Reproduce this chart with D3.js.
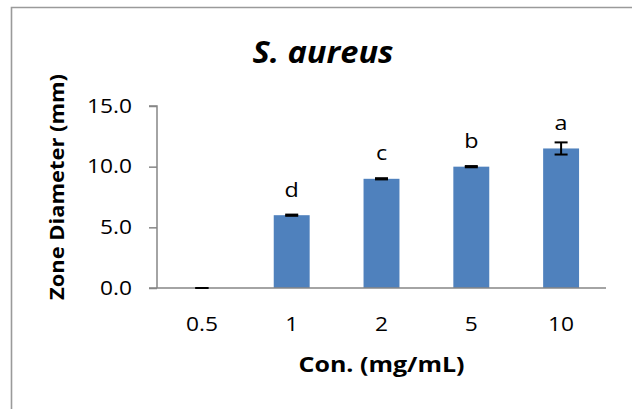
<!DOCTYPE html>
<html>
<head>
<meta charset="utf-8">
<script src="https://cdn.jsdelivr.net/npm/d3@7"></script>
<style>
  html, body { margin: 0; padding: 0; background: #fff; overflow: hidden; }
  svg { display: block; }
  text { font-family: "Open Sans", "Lato", "DejaVu Sans", sans-serif; fill: #000; }
</style>
</head>
<body>
<svg id="chart" width="632" height="409"></svg>
<script>
const categories = ["0.5", "1", "2", "5", "10"];
const values = [0.0, 6.0, 9.0, 10.0, 11.5];
const errors = [0.0, 0.05, 0.05, 0.05, 0.5];
const sigLetters = ["", "d", "c", "b", "a"];
const yTicks = [0, 5, 10, 15];
const titleText = "S. aureus";
const xTitle = "Con. (mg/mL)";
const yTitle = "Zone Diameter (mm)";

const svg = d3.select("#chart");
const plot = { left: 157, right: 606, top: 106, bottom: 288 };
const FONT = '"Open Sans", "Lato", "DejaVu Sans", sans-serif';

// stretch a text horizontally (along its own direction) by a factor
function stretch(sel, factor) {
  sel.each(function () {
    const len = this.getComputedTextLength();
    if (len > 0) d3.select(this).attr("textLength", len * factor).attr("lengthAdjust", "spacingAndGlyphs");
  });
}
function fitTo(sel, target) {
  const len = sel.node().getComputedTextLength();
  sel.attr("textLength", target).attr("lengthAdjust", "spacingAndGlyphs");
  return target / len;
}

// outer chart border (continues beyond the visible area on right/bottom)
svg.append("path")
  .attr("d", "M11.5,420V7.5H640")
  .attr("fill", "none").attr("stroke", "#9a9a9a").attr("stroke-width", 1.6);

const x = d3.scaleBand().domain(categories).range([plot.left, plot.right]).paddingInner(0.6).paddingOuter(0.3);
const y = d3.scaleLinear().domain([0, 15]).range([plot.bottom, plot.top]);

// bars
svg.append("g").selectAll("rect").data(values).join("rect")
  .attr("x", (d, i) => x(categories[i]))
  .attr("y", d => y(d))
  .attr("width", x.bandwidth())
  .attr("height", d => y(0) - y(d))
  .attr("fill", "#4f81bd");

// y axis
const yAxis = d3.axisLeft(y).tickValues(yTicks).tickFormat(d3.format(".1f")).tickSize(8).tickPadding(17);
const gy = svg.append("g").attr("transform", `translate(${plot.left},0)`).call(yAxis);
gy.select(".domain").attr("stroke", "#868686").attr("stroke-width", 1.5).attr("d", `M-8,${plot.top}H0V${plot.bottom}`);
gy.selectAll(".tick line").attr("stroke", "#868686").attr("stroke-width", 1.5);
gy.selectAll(".tick text").attr("font-size", 19.5).attr("fill", "#000").style("font-family", FONT);

// x axis
const xAxis = d3.axisBottom(x).tickSize(0).tickPadding(29);
const gx = svg.append("g").attr("transform", `translate(0,${plot.bottom})`).call(xAxis);
gx.select(".domain").attr("stroke", "#868686").attr("stroke-width", 1.5).attr("d", `M${plot.left - 8},0H${plot.right}`);
gx.selectAll(".tick text").attr("font-size", 19.5).attr("fill", "#000").style("font-family", FONT);

// widen tick labels to match reference proportions
const t15 = gy.selectAll(".tick text").filter(d => d === 15);
const tickFactor = 45 / t15.node().getComputedTextLength();
stretch(gy.selectAll(".tick text"), tickFactor);
stretch(gx.selectAll(".tick text"), tickFactor);

// error bars
const cx = i => x(categories[i]) + x.bandwidth() / 2;
const eb = svg.append("g").attr("stroke", "#000").attr("stroke-width", 2);
values.forEach((v, i) => {
  const yt = y(v + errors[i]), yb = y(v - errors[i]);
  eb.append("line").attr("x1", cx(i)).attr("x2", cx(i)).attr("y1", yt).attr("y2", yb);
  eb.append("line").attr("x1", cx(i) - 6.5).attr("x2", cx(i) + 6.5).attr("y1", yt).attr("y2", yt);
  eb.append("line").attr("x1", cx(i) - 6.5).attr("x2", cx(i) + 6.5).attr("y1", yb).attr("y2", yb);
});

// significance letters
const letters = svg.append("g").selectAll("text").data(sigLetters).join("text")
  .attr("x", (d, i) => cx(i))
  .attr("y", (d, i) => y(values[i]) - 18.6)
  .attr("text-anchor", "middle")
  .attr("font-size", 20)
  .text(d => d);
stretch(letters, tickFactor);

// title
const tt = svg.append("text")
  .attr("x", 323).attr("y", 63)
  .attr("text-anchor", "middle")
  .attr("font-size", 30.5).attr("font-weight", "bold").attr("font-style", "italic")
  .text(titleText);
fitTo(tt, 141);

// x title
const xt = svg.append("text")
  .attr("x", (plot.left + plot.right) / 2).attr("y", 372)
  .attr("text-anchor", "middle")
  .attr("font-size", 21.5).attr("font-weight", "bold")
  .text(xTitle);
fitTo(xt, 166);

// y title
const yt = svg.append("text")
  .attr("transform", `translate(64,187) rotate(-90)`)
  .attr("text-anchor", "middle")
  .attr("font-size", 19.5).attr("font-weight", "bold")
  .text(yTitle);
fitTo(yt, 226);
</script>
</body>
</html>
